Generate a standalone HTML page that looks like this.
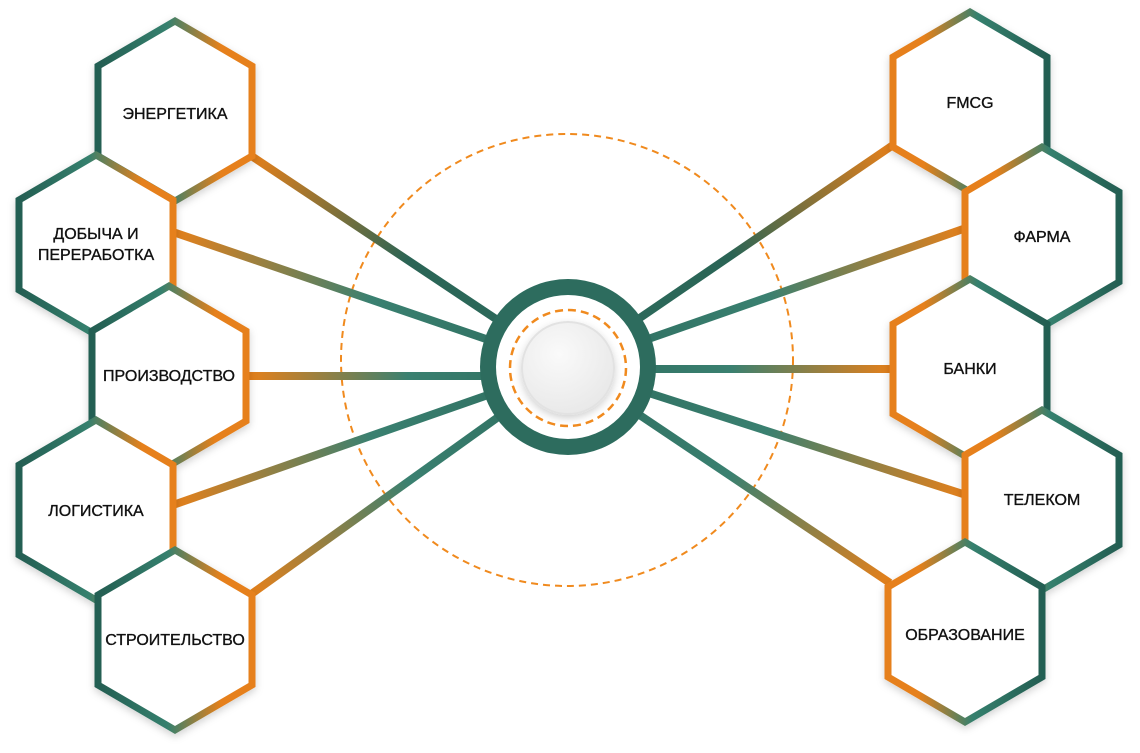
<!DOCTYPE html>
<html><head><meta charset="utf-8"><style>
html,body{margin:0;padding:0;background:#fff;}
svg{display:block;}
text{font-family:"Liberation Sans","DejaVu Sans",sans-serif;font-size:16px;fill:#111;stroke:#111;stroke-width:0.35px;text-anchor:middle;dominant-baseline:middle;}
</style></head><body>
<svg width="1140" height="753" viewBox="0 0 1140 753" xmlns="http://www.w3.org/2000/svg">
<defs>
<linearGradient id="hl" x1="0" y1="0" x2="1" y2="0"><stop offset="0" stop-color="#245e52"/><stop offset="0.45" stop-color="#35806e"/><stop offset="0.8" stop-color="#e6801a"/><stop offset="1" stop-color="#e6801a"/></linearGradient>
<linearGradient id="hr" x1="1" y1="0" x2="0" y2="0"><stop offset="0" stop-color="#245e52"/><stop offset="0.45" stop-color="#35806e"/><stop offset="0.8" stop-color="#e6801a"/><stop offset="1" stop-color="#e6801a"/></linearGradient>
<filter id="sh" x="-20%" y="-20%" width="140%" height="140%"><feDropShadow dx="0" dy="3" stdDeviation="4" flood-color="#000" flood-opacity="0.18"/></filter>
<radialGradient id="disk" cx="0.4" cy="0.35" r="0.7"><stop offset="0" stop-color="#fafafa"/><stop offset="1" stop-color="#e8e8e8"/></radialGradient>
</defs>
<circle cx="567" cy="360" r="226" fill="none" stroke="#f08a1e" stroke-width="2" stroke-dasharray="7 5"/>
<g stroke-width="8" fill="none">
<linearGradient id="g1" gradientUnits="userSpaceOnUse" x1="250" y1="155" x2="568" y2="367"><stop offset="0" stop-color="#e6801a"/><stop offset="0.5" stop-color="#2a6455"/><stop offset="1" stop-color="#2d6c5e"/></linearGradient>
<line x1="250" y1="155" x2="568" y2="367" stroke="url(#g1)"/>
<linearGradient id="g2" gradientUnits="userSpaceOnUse" x1="173" y1="232" x2="568" y2="367"><stop offset="0" stop-color="#e6801a"/><stop offset="0.5" stop-color="#3a8070"/><stop offset="1" stop-color="#2d6c5e"/></linearGradient>
<line x1="173" y1="232" x2="568" y2="367" stroke="url(#g2)"/>
<linearGradient id="g3" gradientUnits="userSpaceOnUse" x1="248" y1="376" x2="568" y2="376"><stop offset="0" stop-color="#e6801a"/><stop offset="0.5" stop-color="#3a8070"/><stop offset="1" stop-color="#2d6c5e"/></linearGradient>
<line x1="248" y1="376" x2="568" y2="376" stroke="url(#g3)"/>
<linearGradient id="g4" gradientUnits="userSpaceOnUse" x1="173" y1="505" x2="568" y2="367"><stop offset="0" stop-color="#e6801a"/><stop offset="0.5" stop-color="#3a8070"/><stop offset="1" stop-color="#2d6c5e"/></linearGradient>
<line x1="173" y1="505" x2="568" y2="367" stroke="url(#g4)"/>
<linearGradient id="g5" gradientUnits="userSpaceOnUse" x1="250" y1="595" x2="568" y2="367"><stop offset="0" stop-color="#e6801a"/><stop offset="0.5" stop-color="#3a8070"/><stop offset="1" stop-color="#2d6c5e"/></linearGradient>
<line x1="250" y1="595" x2="568" y2="367" stroke="url(#g5)"/>
<linearGradient id="g6" gradientUnits="userSpaceOnUse" x1="893" y1="145" x2="568" y2="367"><stop offset="0" stop-color="#e6801a"/><stop offset="0.5" stop-color="#2a6455"/><stop offset="1" stop-color="#2d6c5e"/></linearGradient>
<line x1="893" y1="145" x2="568" y2="367" stroke="url(#g6)"/>
<linearGradient id="g7" gradientUnits="userSpaceOnUse" x1="966" y1="228" x2="568" y2="367"><stop offset="0" stop-color="#e6801a"/><stop offset="0.5" stop-color="#3a8070"/><stop offset="1" stop-color="#2d6c5e"/></linearGradient>
<line x1="966" y1="228" x2="568" y2="367" stroke="url(#g7)"/>
<linearGradient id="g8" gradientUnits="userSpaceOnUse" x1="893" y1="369" x2="568" y2="369"><stop offset="0" stop-color="#e6801a"/><stop offset="0.5" stop-color="#3a8070"/><stop offset="1" stop-color="#2d6c5e"/></linearGradient>
<line x1="893" y1="369" x2="568" y2="369" stroke="url(#g8)"/>
<linearGradient id="g9" gradientUnits="userSpaceOnUse" x1="966" y1="495" x2="568" y2="367"><stop offset="0" stop-color="#e6801a"/><stop offset="0.5" stop-color="#3a8070"/><stop offset="1" stop-color="#2d6c5e"/></linearGradient>
<line x1="966" y1="495" x2="568" y2="367" stroke="url(#g9)"/>
<linearGradient id="g10" gradientUnits="userSpaceOnUse" x1="890" y1="583" x2="568" y2="367"><stop offset="0" stop-color="#e6801a"/><stop offset="0.5" stop-color="#3a8070"/><stop offset="1" stop-color="#2d6c5e"/></linearGradient>
<line x1="890" y1="583" x2="568" y2="367" stroke="url(#g10)"/>
</g>
<g stroke-width="7" fill="#fff" filter="url(#sh)">
<polygon transform="translate(175,111)" points="0,-90 77,-45 77,45 0,90 -77,45 -77,-45" stroke="url(#hl)"/>
<polygon transform="translate(96,245)" points="0,-90 77,-45 77,45 0,90 -77,45 -77,-45" stroke="url(#hl)"/>
<polygon transform="translate(169,376)" points="0,-90 77,-45 77,45 0,90 -77,45 -77,-45" stroke="url(#hl)"/>
<polygon transform="translate(96,510)" points="0,-90 77,-45 77,45 0,90 -77,45 -77,-45" stroke="url(#hl)"/>
<polygon transform="translate(175,640)" points="0,-90 77,-45 77,45 0,90 -77,45 -77,-45" stroke="url(#hl)"/>
<polygon transform="translate(970,102)" points="0,-90 77,-45 77,45 0,90 -77,45 -77,-45" stroke="url(#hr)"/>
<polygon transform="translate(1042,237)" points="0,-90 77,-45 77,45 0,90 -77,45 -77,-45" stroke="url(#hr)"/>
<polygon transform="translate(970,369)" points="0,-90 77,-45 77,45 0,90 -77,45 -77,-45" stroke="url(#hr)"/>
<polygon transform="translate(1042,500)" points="0,-90 77,-45 77,45 0,90 -77,45 -77,-45" stroke="url(#hr)"/>
<polygon transform="translate(965,632)" points="0,-90 77,-45 77,45 0,90 -77,45 -77,-45" stroke="url(#hr)"/>
</g>
<text x="175" y="115">ЭНЕРГЕТИКА</text>
<text x="96" y="235">ДОБЫЧА И</text>
<text x="96" y="256">ПЕРЕРАБОТКА</text>
<text x="169" y="377">ПРОИЗВОДСТВО</text>
<text x="96" y="512">ЛОГИСТИКА</text>
<text x="175" y="641">СТРОИТЕЛЬСТВО</text>
<text x="970" y="104">FMCG</text>
<text x="1042" y="238">ФАРМА</text>
<text x="970" y="370">БАНКИ</text>
<text x="1042" y="501">ТЕЛЕКОМ</text>
<text x="965" y="636">ОБРАЗОВАНИЕ</text>
<circle cx="568" cy="367" r="88" fill="#2d6c5e"/>
<circle cx="568" cy="367" r="72" fill="#fff"/>
<circle cx="568" cy="368" r="58" fill="none" stroke="#f08a1e" stroke-width="2.5" stroke-dasharray="8 5"/>
<circle cx="568" cy="368" r="46" fill="url(#disk)" stroke="#e2e2e2" stroke-width="2" filter="url(#sh)"/>
</svg>
</body></html>
